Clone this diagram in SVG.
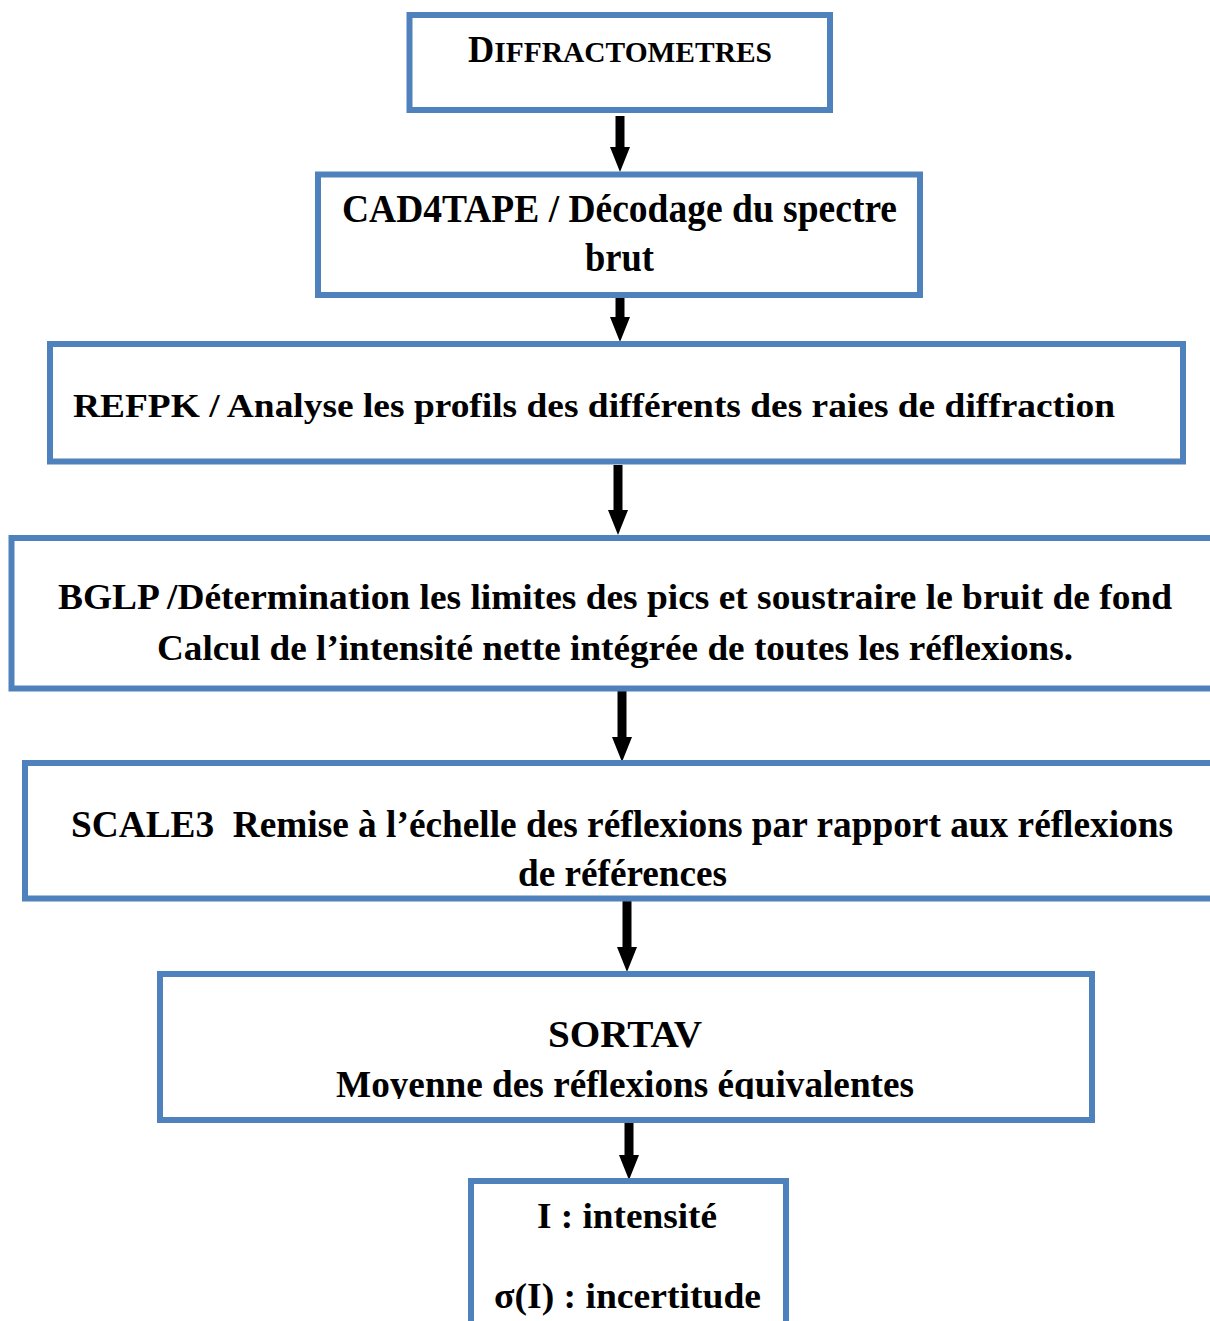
<svg xmlns="http://www.w3.org/2000/svg" width="1210" height="1321" viewBox="0 0 1210 1321">
<style>
.box{fill:#fff;stroke:#4F81BD;stroke-width:6}
.t{font-family:"Liberation Serif","Times New Roman",serif;font-weight:bold;fill:#000}
.arr{stroke:#000;stroke-width:9;fill:none}
</style>
<defs>
<marker id="head" markerUnits="userSpaceOnUse" markerWidth="25" markerHeight="20" refX="0" refY="10" orient="auto" viewBox="0 0 25 20">
<path d="M0,0 L25,10 L0,20 z" fill="#000"/>
</marker>
<clipPath id="clip6"><rect x="150" y="960" width="960" height="139"/></clipPath>
</defs>
<rect width="1210" height="1321" fill="#fff"/>
<g id="connectors">
<line class="arr" x1="620" y1="116" x2="620" y2="147" marker-end="url(#head)"/>
<line class="arr" x1="620" y1="298" x2="620" y2="317" marker-end="url(#head)"/>
<line class="arr" x1="618" y1="465" x2="618" y2="510" marker-end="url(#head)"/>
<line class="arr" x1="622" y1="691" x2="622" y2="737" marker-end="url(#head)"/>
<line class="arr" x1="627" y1="901" x2="627" y2="947" marker-end="url(#head)"/>
<line class="arr" x1="629" y1="1116" x2="629" y2="1155" marker-end="url(#head)"/>
</g>
<g id="n1">
<rect class="box" x="409.5" y="15" width="420.5" height="95"/>
<text class="t" x="468" y="62" textLength="304" lengthAdjust="spacingAndGlyphs" font-size="30"><tspan font-size="37">D</tspan>IFFRACTOMETRES</text>
</g>
<g id="n2">
<rect class="box" x="318" y="174.5" width="602" height="120.5"/>
<text class="t" x="342" y="222" font-size="40" textLength="555" lengthAdjust="spacingAndGlyphs">CAD4TAPE / Décodage du spectre</text>
<text class="t" x="585" y="271" font-size="40" textLength="69" lengthAdjust="spacingAndGlyphs">brut</text>
</g>
<g id="n3">
<rect class="box" x="50" y="344" width="1133" height="117.5"/>
<text class="t" x="73" y="417" font-size="33" textLength="1042" lengthAdjust="spacingAndGlyphs">REFPK / Analyse les profils des différents des raies de diffraction</text>
</g>
<g id="n4">
<rect class="box" x="11.5" y="538" width="1210" height="150.5"/>
<text class="t" x="58" y="609" font-size="36" textLength="1114" lengthAdjust="spacingAndGlyphs">BGLP /Détermination les limites des pics et soustraire le bruit de fond</text>
<text class="t" x="157" y="660" font-size="36" textLength="916" lengthAdjust="spacingAndGlyphs">Calcul de l’intensité nette intégrée de toutes les réflexions.</text>
</g>
<g id="n5">
<rect class="box" x="25" y="763" width="1200" height="135.5"/>
<text class="t" x="71" y="837" font-size="37" textLength="1102" lengthAdjust="spacingAndGlyphs" xml:space="preserve">SCALE3  Remise à l’échelle des réflexions par rapport aux réflexions</text>
<text class="t" x="518" y="886" font-size="37" textLength="209" lengthAdjust="spacingAndGlyphs">de références</text>
</g>
<g id="n6">
<rect class="box" x="160" y="974" width="932" height="146"/>
<text class="t" x="548" y="1047" font-size="37" textLength="154" lengthAdjust="spacingAndGlyphs">SORTAV</text>
<text class="t" x="336" y="1097" font-size="37" textLength="578" lengthAdjust="spacingAndGlyphs" clip-path="url(#clip6)">Moyenne des réflexions équivalentes</text>
</g>
<g id="n7">
<rect class="box" x="471" y="1181" width="315" height="160"/>
<text class="t" x="537" y="1228" font-size="35" textLength="180" lengthAdjust="spacingAndGlyphs">I : intensité</text>
<text class="t" x="494" y="1308" font-size="35" textLength="267" lengthAdjust="spacingAndGlyphs">σ(I) : incertitude</text>
</g>
</svg>
